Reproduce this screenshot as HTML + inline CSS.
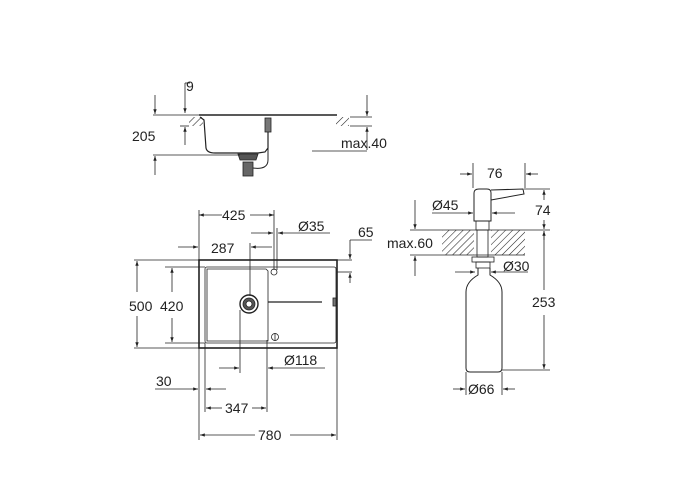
<!DOCTYPE html>
<html><head><meta charset="utf-8"><style>
html,body{margin:0;padding:0;background:#fff;}
svg{display:block}
text{font-family:"Liberation Sans",Arial,sans-serif;font-size:14px;fill:#222}
</style></head><body>
<svg width="700" height="500" viewBox="0 0 700 500" xmlns="http://www.w3.org/2000/svg">
<defs>
<marker id="a" viewBox="0 0 10 10" refX="10" refY="5" markerWidth="8" markerHeight="6" orient="auto-start-reverse"><path d="M0,1.5L10,5L0,8.5z" fill="#222"/></marker>
<pattern id="h" width="5" height="5" patternUnits="userSpaceOnUse" patternTransform="rotate(45)"><line x1="0" y1="0" x2="0" y2="5" stroke="#222" stroke-width="1.1"/></pattern>
</defs>
<g stroke="#222" stroke-width="0.8" fill="none">
<!-- TOP SIDE VIEW -->
<rect x="189" y="117" width="14" height="9" fill="url(#h)" stroke="none"/>
<rect x="336" y="117" width="13" height="9" fill="url(#h)" stroke="none"/>
<line x1="199" y1="115" x2="337" y2="115" stroke-width="1.5"/>
<path d="M200,117 L204,120 L206,148 Q207,153 215,153 L258,153 L265,152 L268,148 L268,120" stroke-width="1.2"/>
<path d="M238,154 L258,154 L256,160 L240,160 Z" fill="#555"/>
<rect x="243" y="162" width="10" height="14" fill="#666"/>
<path d="M253,168 Q268,170 268,160 L268,125" stroke-width="1"/>
<rect x="265" y="118" width="6" height="14" fill="#777"/>
<!-- 9 -->
<line x1="185" y1="83" x2="185" y2="113" marker-end="url(#a)"/>
<line x1="185" y1="145" x2="185" y2="127" marker-end="url(#a)"/>
<line x1="185" y1="83" x2="190" y2="83"/>
<line x1="180" y1="126" x2="189" y2="126"/>
<line x1="153" y1="115" x2="199" y2="115"/>
<!-- 205 -->
<line x1="155" y1="95" x2="155" y2="114" marker-end="url(#a)"/>
<line x1="155" y1="175" x2="155" y2="156" marker-end="url(#a)"/>
<line x1="153" y1="155" x2="240" y2="155"/>
<!-- max.40 -->
<line x1="367" y1="95" x2="367" y2="116" marker-end="url(#a)"/>
<line x1="367" y1="150" x2="367" y2="127" marker-end="url(#a)"/>
<line x1="350" y1="117" x2="372" y2="117"/>
<line x1="350" y1="126" x2="372" y2="126"/>
<line x1="312" y1="151" x2="367" y2="151"/>

<!-- SINK PLAN -->
<rect x="199" y="260" width="138" height="88" stroke-width="1.6"/>
<rect x="205" y="267" width="131" height="76" rx="2"/>
<path d="M207,269 L266,269 L268,271 L268,341 L207,341 Z"/>
<circle cx="249" cy="304" r="9" stroke-width="1.4"/>
<circle cx="249" cy="304" r="6" fill="#555"/>
<circle cx="249" cy="304" r="3" fill="#fff"/>
<line x1="268" y1="302" x2="322" y2="302" stroke-width="1.2"/>
<circle cx="274" cy="272" r="3"/>
<circle cx="275" cy="337" r="3.5"/>
<line x1="275" y1="333" x2="275" y2="341"/>
<rect x="333" y="298" width="3" height="8" fill="#777"/>
<!-- extension lines -->
<line x1="199" y1="210" x2="199" y2="440"/>
<line x1="337" y1="348" x2="337" y2="440"/>
<line x1="205" y1="343" x2="205" y2="412"/>
<line x1="267" y1="340" x2="267" y2="412"/>
<line x1="240" y1="310" x2="240" y2="373"/>
<line x1="274" y1="210" x2="274" y2="270"/>
<line x1="277" y1="228" x2="277" y2="270"/>
<line x1="250" y1="243" x2="250" y2="296"/>
<line x1="134" y1="260" x2="199" y2="260"/>
<line x1="134" y1="348" x2="199" y2="348"/>
<line x1="165" y1="267" x2="205" y2="267"/>
<line x1="165" y1="343" x2="205" y2="343"/>
<line x1="337" y1="260" x2="352" y2="260"/>
<line x1="337" y1="272" x2="352" y2="272"/>
<!-- 425 -->
<line x1="222" y1="215" x2="199" y2="215" marker-end="url(#a)"/>
<line x1="250" y1="215" x2="274" y2="215" marker-end="url(#a)"/>
<!-- Ø35 -->
<line x1="251" y1="233" x2="273" y2="233" marker-end="url(#a)"/>
<line x1="330" y1="233" x2="278" y2="233" marker-end="url(#a)"/>
<!-- 287 -->
<line x1="178" y1="247" x2="198" y2="247" marker-end="url(#a)"/>
<line x1="272" y1="247" x2="251" y2="247" marker-end="url(#a)"/>
<!-- 65 -->
<line x1="350" y1="240" x2="372" y2="240"/>
<line x1="350" y1="240" x2="350" y2="259" marker-end="url(#a)"/>
<line x1="350" y1="283" x2="350" y2="273" marker-end="url(#a)"/>
<!-- 500 -->
<line x1="137" y1="292" x2="137" y2="261" marker-end="url(#a)"/>
<line x1="137" y1="316" x2="137" y2="347" marker-end="url(#a)"/>
<!-- 420 -->
<line x1="172" y1="292" x2="172" y2="268" marker-end="url(#a)"/>
<line x1="172" y1="318" x2="172" y2="342" marker-end="url(#a)"/>
<!-- Ø118 -->
<line x1="219" y1="368" x2="239" y2="368" marker-end="url(#a)"/>
<line x1="325" y1="368" x2="268" y2="368" marker-end="url(#a)"/>
<!-- 30 -->
<line x1="155" y1="389" x2="198" y2="389" marker-end="url(#a)"/>
<line x1="226" y1="389" x2="206" y2="389" marker-end="url(#a)"/>
<!-- 347 -->
<line x1="222" y1="408" x2="206" y2="408" marker-end="url(#a)"/>
<line x1="252" y1="408" x2="266" y2="408" marker-end="url(#a)"/>
<!-- 780 -->
<line x1="255" y1="435" x2="200" y2="435" marker-end="url(#a)"/>
<line x1="290" y1="435" x2="336" y2="435" marker-end="url(#a)"/>

<!-- DISPENSER -->
<rect x="442" y="230" width="32" height="25" fill="url(#h)" stroke="none"/>
<rect x="491" y="230" width="34" height="25" fill="url(#h)" stroke="none"/>
<line x1="410" y1="230" x2="525" y2="230"/>
<line x1="410" y1="255" x2="525" y2="255"/>
<path d="M474,221 L474,193 Q474,189 479,189 L487,189 Q491,189 491,193 L491,221 Z" stroke-width="1"/>
<path d="M491,190 L523,189 L524,194 L491,200" stroke-width="1"/>
<rect x="476" y="221" width="13" height="9"/>
<rect x="477" y="230" width="11" height="27"/>
<rect x="472" y="257" width="22" height="5"/>
<rect x="476" y="262" width="14" height="6"/>
<path d="M478,268 L478,275 Q466,282 466,292 L466,368 Q466,372 470,372 L498,372 Q502,372 502,368 L502,292 Q502,282 490,275 L490,268" stroke-width="1"/>
<!-- 76 -->
<line x1="473" y1="163" x2="473" y2="188"/>
<line x1="525" y1="163" x2="525" y2="188"/>
<line x1="460" y1="174" x2="472" y2="174" marker-end="url(#a)"/>
<line x1="538" y1="174" x2="526" y2="174" marker-end="url(#a)"/>
<line x1="524" y1="189" x2="550" y2="189"/>
<!-- 74/253 -->
<line x1="544" y1="200" x2="544" y2="190" marker-end="url(#a)"/>
<line x1="544" y1="220" x2="544" y2="229" marker-end="url(#a)"/>
<line x1="544" y1="240" x2="544" y2="231" marker-end="url(#a)"/>
<line x1="544" y1="290" x2="544" y2="231"/>
<line x1="544" y1="315" x2="544" y2="369" marker-end="url(#a)"/>
<line x1="502" y1="370" x2="550" y2="370"/>
<line x1="525" y1="230" x2="550" y2="230"/>
<!-- max.60 -->
<line x1="415" y1="200" x2="415" y2="229" marker-end="url(#a)"/>
<line x1="415" y1="276" x2="415" y2="256" marker-end="url(#a)"/>
<!-- Ø45 -->
<line x1="432" y1="213" x2="473" y2="213" marker-end="url(#a)"/>
<line x1="515" y1="213" x2="492" y2="213" marker-end="url(#a)"/>
<!-- Ø30 -->
<line x1="455" y1="272" x2="475" y2="272" marker-end="url(#a)"/>
<line x1="528" y1="272" x2="491" y2="272" marker-end="url(#a)"/>
<!-- Ø66 -->
<line x1="466" y1="372" x2="466" y2="395"/>
<line x1="502" y1="372" x2="502" y2="395"/>
<line x1="453" y1="389" x2="465" y2="389" marker-end="url(#a)"/>
<line x1="515" y1="389" x2="503" y2="389" marker-end="url(#a)"/>
</g>
<g>
<text x="186" y="91">9</text>
<text x="132" y="141">205</text>
<text x="341" y="148">max.40</text>
<text x="222" y="220">425</text>
<text x="298" y="231">Ø35</text>
<text x="358" y="237">65</text>
<text x="211" y="253">287</text>
<text x="129" y="311">500</text>
<text x="160" y="311">420</text>
<text x="284" y="365">Ø118</text>
<text x="156" y="386">30</text>
<text x="225" y="413">347</text>
<text x="258" y="440">780</text>
<text x="487" y="178">76</text>
<text x="432" y="210">Ø45</text>
<text x="535" y="215">74</text>
<text x="387" y="248">max.60</text>
<text x="503" y="271">Ø30</text>
<text x="532" y="307">253</text>
<text x="468" y="394">Ø66</text>
</g>
</svg>
</body></html>
